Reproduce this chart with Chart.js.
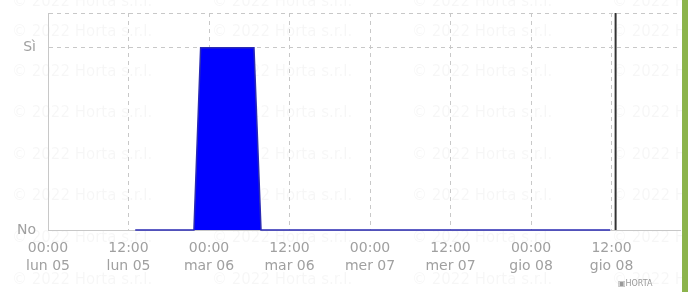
<!DOCTYPE html>
<html>
<head>
<meta charset="utf-8">
<script src="https://cdn.jsdelivr.net/npm/chart.js@4"></script>
<style>
  html, body { margin: 0; padding: 0; background: #fff; }
  #wrap { width: 682px; height: 292px; border-right: 6px solid #8cb44c; }
</style>
</head>
<body>
<div id="wrap"><canvas id="stateChart" width="682" height="292"></canvas></div>
<script>
// hours since 00:00 lun 05
const stateHours = [13.0, 21.75, 22.75, 30.7, 31.75, 83.8];
const stateValues = [0, 0, 1, 1, 0, 0];
const nowHour = 84.6;
const tickHours = [0, 12, 24, 36, 48, 60, 72, 84];
const tickTimes = ["00:00", "12:00", "00:00", "12:00", "00:00", "12:00", "00:00", "12:00"];
const tickDays = ["lun 05", "lun 05", "mar 06", "mar 06", "mer 07", "mer 07", "gio 08", "gio 08"];
const yLabels = { 0: "No", 1: "Sì" };
const watermark = "© 2022 Horta s.r.l.";

const X_MAX = 94.2;
const Y_MAX = 1.19;

const ctx = document.getElementById("stateChart").getContext("2d");

const watermarkPlugin = {
    id: "watermark",
    beforeDraw(chart) {
        const c = chart.ctx;
        c.save();
        c.fillStyle = "rgba(0,0,0,0.035)";
        c.font = "15px 'DejaVu Sans'";
        c.textBaseline = "middle";
        const rows = [2, 32, 72, 113, 155, 196, 238, 280];
        const cols = [12, 212, 412, 612];
        rows.forEach(y => cols.forEach(x => c.fillText(watermark, x, y)));
        c.restore();
    },
    afterDraw(chart) {
        const c = chart.ctx;
        c.save();
        c.fillStyle = "#999";
        c.font = "8px 'DejaVu Sans'";
        c.textBaseline = "middle";
        c.fillText("▣HORTA", 618, 284);
        c.restore();
    }
};

new Chart(ctx, {
    type: "line",
    data: {
        datasets: [{
            data: stateHours.map((h, i) => ({ x: h, y: stateValues[i] })),
            fill: "origin",
            backgroundColor: "#0000ff",
            borderColor: "#2a2ab4",
            borderWidth: 1.5,
            pointRadius: 0,
            tension: 0,
            clip: false
        }, {
            // "now" marker
            data: [{ x: nowHour, y: 0 }, { x: nowHour, y: Y_MAX }],
            borderColor: "#333",
            borderWidth: 2,
            pointRadius: 0,
            fill: false
        }]
    },
    plugins: [watermarkPlugin],
    options: {
        responsive: false,
        animation: false,
        layout: { padding: { top: 13, right: 2, left: 0, bottom: 0 } },
        plugins: {
            legend: { display: false },
            tooltip: { enabled: false }
        },
        scales: {
            x: {
                type: "linear",
                min: 0,
                max: X_MAX,
                afterBuildTicks: (scale) => {
                    scale.ticks = tickHours.map(v => ({ value: v }));
                },
                afterFit: (scale) => { scale.height = 62; },
                ticks: {
                    color: "#a0a0a0",
                    font: { family: "'DejaVu Sans'", size: 14, lineHeight: 1.3 },
                    padding: 9,
                    maxRotation: 0,
                    autoSkip: false,
                    callback: (v) => {
                        const i = tickHours.indexOf(v);
                        return i < 0 ? "" : [tickTimes[i], tickDays[i]];
                    }
                },
                grid: { color: "#c8c8c8", drawTicks: false },
                border: { color: "#c8c8c8", dash: [4, 4] }
            },
            y: {
                min: 0,
                max: Y_MAX,
                afterBuildTicks: (scale) => {
                    scale.ticks = [{ value: 0 }, { value: 1 }, { value: Y_MAX }];
                },
                afterFit: (scale) => {
                    scale.width = 48;
                    scale.paddingTop = 0;
                    scale.paddingBottom = 0;
                },
                ticks: {
                    color: "#a0a0a0",
                    font: { family: "'DejaVu Sans'", size: 14 },
                    padding: 12,
                    callback: (v) => yLabels[v] || ""
                },
                grid: { color: "#c8c8c8", drawTicks: false },
                border: { color: "#c8c8c8", dash: [4, 4] }
            }
        }
    }
});
</script>
</body>
</html>
